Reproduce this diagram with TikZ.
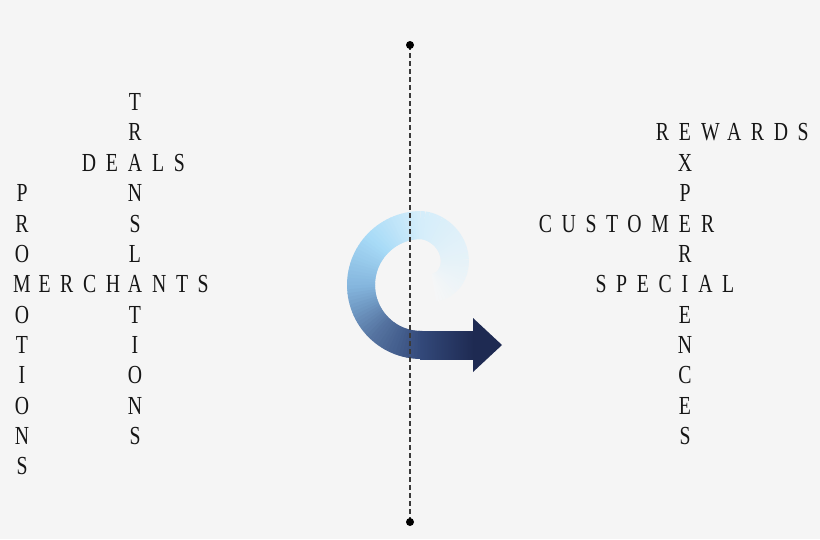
\documentclass[tikz,border=0pt]{standalone}
\usepackage{fontspec}
\newfontfamily\letterfont[FakeStretch=0.76]{Liberation Serif}
\newfontfamily\wordfont[FakeStretch=0.76,LetterSpace=37]{Liberation Serif}
\usetikzlibrary{calc}
\definecolor{bg}{HTML}{F5F5F5}
\definecolor{ink}{HTML}{161616}
\definecolor{rule}{HTML}{3A3A3A}
\definecolor{tailend}{HTML}{F5F6F7}
\definecolor{arcA}{HTML}{D4EDFA}
\definecolor{arcB}{HTML}{A8DBF7}
\definecolor{arcC}{HTML}{84B5DD}
\definecolor{arcD}{HTML}{5573A0}
\definecolor{arcE}{HTML}{33497A}
\definecolor{navy}{HTML}{1E2A52}
\tikzset{
  letter/.style={font=\letterfont\fontsize{26}{26}\selectfont, text=ink,
    inner sep=0pt, anchor=base},
  word/.style={font=\wordfont\fontsize{26}{26}\selectfont, text=ink,
    inner sep=0pt},
  divider/.style={rule, line width=1.2pt, dash pattern=on 5pt off 3pt},
}
\begin{document}
\begin{tikzpicture}[x=1pt, y=-1pt,
    declare function={curlrad(\t)=60*(1-(max(0,90-\t)/120)^1.5);}]
  \def\firstrow{110.6}
  \def\row{30.36}
  \def\gap{9.6pt}
  \def\cx{421}
  \def\cy{285}
  \def\w{28pt}
  \fill[bg] (0,0) rectangle (820,539);
  \useasboundingbox (0,0) rectangle (820,539);
  % spiral arrow
  \foreach \a/\b/\ca/\cb in {-12/90/tailend/arcA, 90/135/arcA/arcB,
      135/180/arcB/arcC, 180/225/arcC/arcD, 225/270/arcD/arcE}{
    \pgfmathtruncatemacro\n{(\b-\a)/3-1}
    \foreach \s in {0,...,\n}{
      \pgfmathsetmacro\t{\a+3*\s}
      \pgfmathtruncatemacro\p{100*3*\s/(\b-\a)}
      \draw[line width=\w, color=\cb!\p!\ca]
        ({\cx+curlrad(\t)*cos(\t)}, {\cy-curlrad(\t)*sin(\t)}) --
        ({\cx+curlrad(\t+4)*cos(\t+4)}, {\cy-curlrad(\t+4)*sin(\t+4)});
    }
  }
  \shade[left color=arcE, right color=navy] (\cx-1, 331) rectangle (474, 359);
  \fill[navy] (473,318) -- (502,345) -- (473,372) -- cycle;
  % divider
  \coordinate (top) at (410,45);
  \coordinate (bottom) at (410,522);
  \draw[divider] (top) -- (bottom);
  \fill[black] (top) circle (4) (bottom) circle (4);
  % columns
  \foreach \l [count=\i from 0] in {T,R,A,N,S,L,A,T,I,O,N,S}
    \node[letter] (tr\i) at (135, {\firstrow+\row*\i}) {\l};
  \foreach \l [count=\i from 3] in {P,R,O,M,O,T,I,O,N,S}
    \node[letter] (pr\i) at (22, {\firstrow+\row*\i}) {\l};
  \foreach \l [count=\i from 1] in {E,X,P,E,R,I,E,N,C,E,S}
    \node[letter] (ex\i) at (685, {\firstrow+\row*\i}) {\l};
  % rows
  \node[word, anchor=base east] (de) at ([xshift=-\gap]tr2.base west) {DE};
  \node[word, anchor=base west] (ls) at ([xshift=\gap]tr2.base east) {LS};
  \node[word, anchor=base] (erch) at ($(pr6.base east)!0.5!(tr6.base west)$) {ERCH};
  \node[word, anchor=base west] (nts) at ([xshift=\gap]tr6.base east) {NTS};
  \node[word, anchor=base east] (re) at ([xshift=-\gap]ex1.base west) {R};
  \node[word, anchor=base west] (wards) at ([xshift=\gap]ex1.base east) {WARDS};
  \node[word, anchor=base east] (custom) at ([xshift=-\gap]ex4.base west) {CUSTOM};
  \node[word, anchor=base west] (mer) at ([xshift=\gap]ex4.base east) {R};
  \node[word, anchor=base east] (spec) at ([xshift=-\gap]ex6.base west) {SPEC};
  \node[word, anchor=base west] (al) at ([xshift=\gap]ex6.base east) {AL};
\end{tikzpicture}
\end{document}
